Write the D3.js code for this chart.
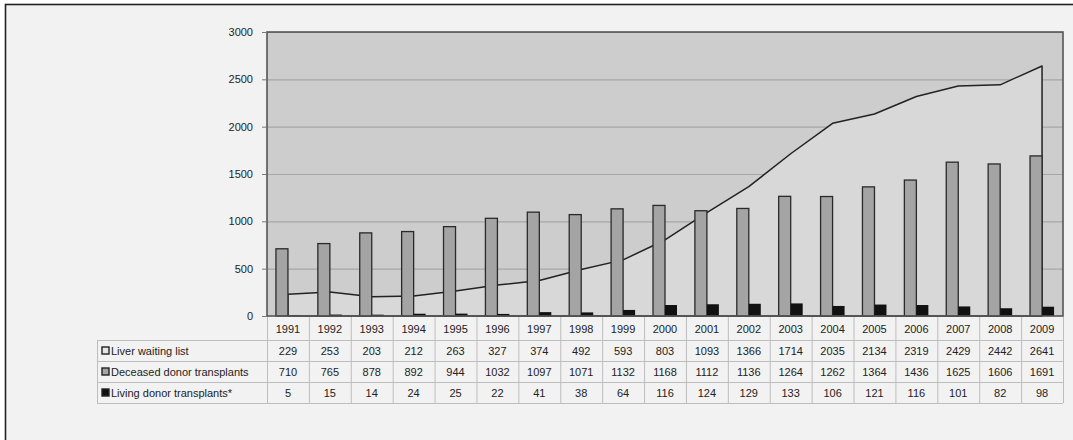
<!DOCTYPE html>
<html>
<head>
<meta charset="utf-8">
<script src="https://cdn.jsdelivr.net/npm/d3@7"></script>
<style>
    body { margin: 0; background: #fff; }
    svg { display: block; font-family: "Liberation Sans", Arial, sans-serif; }
</style>
</head>
<body>
<svg id="chart" width="1073" height="440"></svg>
<script>
// 年份与数据
var years = ["1991", "1992", "1993", "1994", "1995", "1996", "1997", "1998", "1999", "2000",
    "2001", "2002", "2003", "2004", "2005", "2006", "2007", "2008", "2009"];
var waitingList = [229, 253, 203, 212, 263, 327, 374, 492, 593, 803, 1093, 1366, 1714, 2035, 2134, 2319, 2429, 2442, 2641];
var deceased = [710, 765, 878, 892, 944, 1032, 1097, 1071, 1132, 1168, 1112, 1136, 1264, 1262, 1364, 1436, 1625, 1606, 1691];
var living = [5, 15, 14, 24, 25, 22, 41, 38, 64, 116, 124, 129, 133, 106, 121, 116, 101, 82, 98];
var yTicks = [0, 500, 1000, 1500, 2000, 2500, 3000];
var seriesNames = ["Liver waiting list", "Deceased donor transplants", "Living donor transplants*"];

var plotLeft = 267, plotRight = 1063, plotTop = 32, plotBottom = 316;
var tableLeft = 97, headerH = 24, rowH = 21;

var svg = d3.select("#chart");

// 背景和外框
svg.append("rect")
    .attr("x", 0).attr("y", 0)
    .attr("width", 1073).attr("height", 440)
    .attr("fill", "#fff");
svg.append("rect")
    .attr("x", 5.5).attr("y", 4.5)
    .attr("width", 1100).attr("height", 460)
    .attr("fill", "#f2f2f2")
    .attr("stroke", "#222")
    .attr("stroke-width", 1.6);

var x = d3.scaleBand()
    .domain(years)
    .range([plotLeft, plotRight]);

var y = d3.scaleLinear()
    .domain([0, 3000])
    .range([plotBottom, plotTop]);

// 绘图区
svg.append("rect")
    .attr("x", plotLeft).attr("y", plotTop)
    .attr("width", plotRight - plotLeft).attr("height", plotBottom - plotTop)
    .attr("fill", "#cdcdcd");

// 网格线
svg.append("g")
    .selectAll("line")
    .data(yTicks.slice(1))
    .enter()
    .append("line")
    .attr("x1", plotLeft).attr("x2", plotRight)
    .attr("y1", function (d) { return y(d) + 0.5; })
    .attr("y2", function (d) { return y(d) + 0.5; })
    .attr("stroke", "#a6a6a6")
    .attr("stroke-width", 1.2);

// 等待名单 - 面积
var area = d3.area()
    .x(function (d, i) { return x(years[i]) + x.bandwidth() / 2; })
    .y0(y(0))
    .y1(function (d) { return y(d); });

svg.append("path")
    .datum(waitingList)
    .attr("d", area)
    .attr("fill", "#d8d8d8")
    .attr("stroke", "#222")
    .attr("stroke-width", 1.5)
    .attr("stroke-linejoin", "round");

// 柱子
var barW = 12;
svg.append("g")
    .selectAll("rect")
    .data(deceased)
    .enter()
    .append("rect")
    .attr("x", function (d, i) { return x(years[i]) + x.bandwidth() / 2 - barW; })
    .attr("y", function (d) { return y(d); })
    .attr("width", barW)
    .attr("height", function (d) { return y(0) - y(d); })
    .attr("fill", "#a4a4a4")
    .attr("stroke", "#2a2a2a")
    .attr("stroke-width", 1.3);

svg.append("g")
    .selectAll("rect")
    .data(living)
    .enter()
    .append("rect")
    .attr("x", function (d, i) { return x(years[i]) + x.bandwidth() / 2; })
    .attr("y", function (d) { return y(d); })
    .attr("width", barW)
    .attr("height", function (d) { return y(0) - y(d); })
    .attr("fill", "#111");

// 绘图区边框
svg.append("rect")
    .attr("x", plotLeft).attr("y", plotTop)
    .attr("width", plotRight - plotLeft).attr("height", plotBottom - plotTop)
    .attr("fill", "none")
    .attr("stroke", "#555")
    .attr("stroke-width", 1.6);

// Y轴
var yAxis = d3.axisLeft(y)
    .tickValues(yTicks)
    .tickFormat(d3.format("d"))
    .tickSize(5)
    .tickPadding(9);
var yAxisG = svg.append("g")
    .attr("transform", "translate(" + plotLeft + ",0)")
    .call(yAxis);
yAxisG.select(".domain").remove();
yAxisG.selectAll("line").attr("stroke", "#777");
yAxisG.selectAll("text")
    .attr("font-size", 11)
    .attr("font-family", "Liberation Sans, Arial, sans-serif")
    .attr("fill", "#222");

// 数据表
var table = svg.append("g").attr("class", "data-table");
var gridColor = "#bdbdbd";
var tableBottom = plotBottom + headerH + rowH * 3;

// 年份行
table.selectAll("text.year")
    .data(years)
    .enter()
    .append("text")
    .classed("year", true)
    .attr("x", function (d) { return x(d) + x.bandwidth() / 2; })
    .attr("y", plotBottom + headerH / 2 + 1)
    .attr("dy", ".35em")
    .attr("text-anchor", "middle")
    .attr("font-size", 11)
    .attr("fill", "#222")
    .text(function (d) { return d; });

// 竖线
table.selectAll("line.col")
    .data(years.concat(["end"]))
    .enter()
    .append("line")
    .classed("col", true)
    .attr("x1", function (d, i) { return i < years.length ? x(d) + 0.5 : plotRight + 0.5; })
    .attr("x2", function (d, i) { return i < years.length ? x(d) + 0.5 : plotRight + 0.5; })
    .attr("y1", plotBottom + 1)
    .attr("y2", tableBottom)
    .attr("stroke", gridColor);

// 横线
var rowLines = [0, 1, 2, 3].map(function (k) { return plotBottom + headerH + rowH * k; });
table.selectAll("line.row")
    .data(rowLines)
    .enter()
    .append("line")
    .classed("row", true)
    .attr("x1", tableLeft)
    .attr("x2", plotRight)
    .attr("y1", function (d) { return d + 0.5; })
    .attr("y2", function (d) { return d + 0.5; })
    .attr("stroke", gridColor);

table.append("line")
    .attr("x1", tableLeft + 0.5).attr("x2", tableLeft + 0.5)
    .attr("y1", rowLines[0]).attr("y2", tableBottom)
    .attr("stroke", gridColor);

var rows = [waitingList, deceased, living];
var keyFill = ["#e6e6e6", "#a4a4a4", "#111"];

rows.forEach(function (vals, r) {
    var cy = plotBottom + headerH + rowH * r + rowH / 2 + 1;
    table.selectAll("text.v" + r)
        .data(vals)
        .enter()
        .append("text")
        .classed("v" + r, true)
        .attr("x", function (d, i) { return x(years[i]) + x.bandwidth() / 2; })
        .attr("y", cy)
        .attr("dy", ".35em")
        .attr("text-anchor", "middle")
        .attr("font-size", 11)
        .attr("fill", "#222")
        .text(function (d) { return d; });

    // 图例
    table.append("rect")
        .attr("x", tableLeft + 5)
        .attr("y", cy - 4.5)
        .attr("width", 7)
        .attr("height", 7)
        .attr("fill", keyFill[r])
        .attr("stroke", "#222")
        .attr("stroke-width", 1.4);
    table.append("text")
        .attr("x", tableLeft + 14)
        .attr("y", cy)
        .attr("dy", ".35em")
        .attr("font-size", 11)
        .attr("fill", "#222")
        .text(seriesNames[r]);
});
</script>
</body>
</html>
